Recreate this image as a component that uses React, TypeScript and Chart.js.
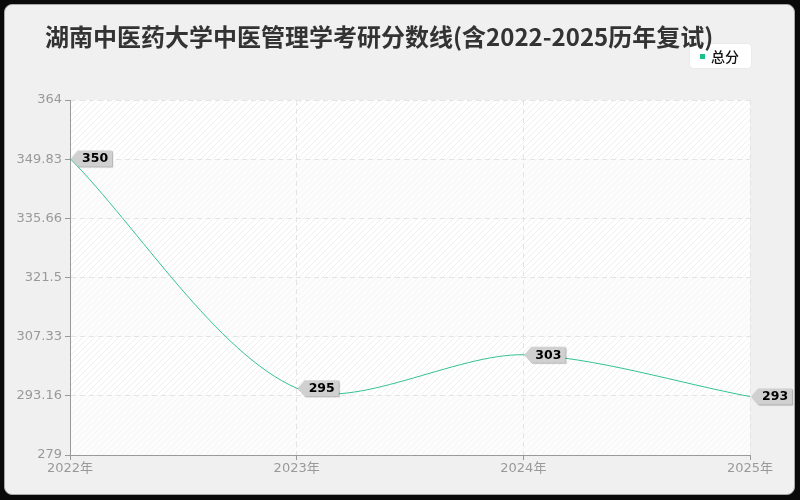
import React, { useEffect, useRef } from "react";
import { Chart, registerables } from "chart.js";

Chart.register(...registerables);

const TITLE = "湖南中医药大学中医管理学考研分数线(含2022-2025历年复试)";
const categories = ["2022年", "2023年", "2024年", "2025年"];
const seriesName = "总分";
const totalScores = [350, 295, 303, 293];
const yTickValues = [279, 293.1667, 307.3333, 321.5, 335.6667, 349.8333, 364];
const yTickLabels = ["279", "293.16", "307.33", "321.5", "335.66", "349.83", "364"];

const LINE_COLOR = "#34c196";
const FONT = "'DejaVu Sans', 'Noto Sans CJK SC', sans-serif";

function makePattern(ctx: CanvasRenderingContext2D, bg: string, line: string) {
  const size = 6;
  const c = document.createElement("canvas");
  c.width = size;
  c.height = size;
  const p = c.getContext("2d")!;
  p.fillStyle = bg;
  p.fillRect(0, 0, size, size);
  p.strokeStyle = line;
  p.lineWidth = 1;
  p.beginPath();
  p.moveTo(0, size);
  p.lineTo(size, 0);
  p.moveTo(-size / 2, size / 2);
  p.lineTo(size / 2, -size / 2);
  p.moveTo(size / 2, size + size / 2);
  p.lineTo(size + size / 2, size / 2);
  p.stroke();
  return ctx.createPattern(c, "repeat")!;
}

const bandsPlugin = {
  id: "bands",
  beforeDraw(chart: any) {
    const { ctx, chartArea } = chart;
    const y = chart.scales.y;
    const pA = makePattern(ctx, "#ffffff", "#efefef");
    const pB = makePattern(ctx, "#fcfcfc", "#f5f5f5");
    ctx.save();
    for (let i = 0; i < yTickValues.length - 1; i++) {
      const top = y.getPixelForValue(yTickValues[yTickValues.length - 1 - i]);
      const bottom = y.getPixelForValue(yTickValues[yTickValues.length - 2 - i]);
      ctx.fillStyle = i % 2 === 0 ? pA : pB;
      ctx.fillRect(chartArea.left, top, chartArea.right - chartArea.left, bottom - top);
    }
    ctx.restore();
  },
};

const tagPlugin = {
  id: "tags",
  afterDatasetsDraw(chart: any) {
    const { ctx } = chart;
    const meta = chart.getDatasetMeta(0);
    const data = chart.data.datasets[0].data;
    ctx.save();
    ctx.font = "bold 12.5px 'DejaVu Sans', sans-serif";
    meta.data.forEach((pt: any, i: number) => {
      const text = String(data[i]);
      const tw = ctx.measureText(text).width;
      const h = 16;
      const arrow = 7;
      const pad = 4;
      const x0 = pt.x + 1;
      const py = pt.y;
      const bx = x0 + arrow;
      const bw = tw + pad * 2;
      ctx.save();
      ctx.shadowColor = "rgba(0,0,0,0.3)";
      ctx.shadowOffsetX = 1;
      ctx.shadowOffsetY = 1;
      ctx.shadowBlur = 1;
      ctx.fillStyle = "#d0d0d0";
      ctx.beginPath();
      ctx.moveTo(x0, py);
      ctx.lineTo(bx, py - h / 2);
      ctx.lineTo(bx + bw, py - h / 2);
      ctx.lineTo(bx + bw, py + h / 2);
      ctx.lineTo(bx, py + h / 2);
      ctx.closePath();
      ctx.fill();
      ctx.restore();
      ctx.fillStyle = "#000";
      ctx.textBaseline = "middle";
      ctx.textAlign = "left";
      ctx.fillText(text, bx + pad, py + 0.5);
    });
    ctx.restore();
  },
};

export default function App() {
  const ref = useRef<HTMLCanvasElement>(null);

  useEffect(() => {
    if (!ref.current) return;
    Chart.defaults.font.family = FONT;
    const chart = new Chart(ref.current, {
      type: "line",
      data: {
        labels: categories,
        datasets: [
          {
            label: seriesName,
            data: totalScores,
            borderColor: LINE_COLOR,
            backgroundColor: LINE_COLOR,
            borderWidth: 1,
            pointRadius: 0,
            tension: 0.3,
            fill: false,
          },
        ],
      },
      options: {
        animation: false,
        responsive: false,
        devicePixelRatio: 1,
        layout: { padding: { top: 100, right: 50, left: 0, bottom: 0 } },
        plugins: {
          legend: { display: false },
          title: { display: false },
          tooltip: { enabled: false },
        },
        scales: {
          x: {
            type: "category",
            offset: false,
            afterFit: (s: any) => {
              s.height = 45;
            },
            grid: {
              display: true,
              color: "#e4e4e4",
              tickColor: "#999",
              tickLength: 5,
              drawOnChartArea: true,
            },
            border: { display: true, color: "#999", width: 1, dash: [5, 4] },
            ticks: {
              color: "#999",
              font: { size: 13, family: FONT },
              padding: 1,
              maxRotation: 0,
            },
          },
          y: {
            type: "linear",
            min: 279,
            max: 364,
            afterFit: (s: any) => {
              s.width = 70;
            },
            afterBuildTicks: (s: any) => {
              s.ticks = yTickValues.map((v) => ({ value: v }));
            },
            grid: {
              display: true,
              color: "#e4e4e4",
              tickColor: "#999",
              tickLength: 5,
            },
            border: { display: true, color: "#999", width: 1, dash: [5, 4] },
            ticks: {
              color: "#999",
              font: { size: 13, family: FONT },
              padding: 3,
              callback: (_v: any, i: number) => yTickLabels[i],
            },
          },
        },
      },
      plugins: [bandsPlugin, tagPlugin],
    } as any);
    return () => chart.destroy();
  }, []);

  return (
    <div style={{ position: "fixed", left: 0, top: 0, width: 800, height: 500, background: "#0a0a0a", overflow: "hidden" }}>
      <div
        style={{
          position: "absolute",
          left: 4,
          top: 4,
          width: 791,
          height: 491,
          boxSizing: "border-box",
          background: "#f0f0f0",
          border: "1px solid #a8a8a8",
          borderRadius: 8,
        }}
      />
      <canvas ref={ref} width={800} height={500} style={{ position: "absolute", left: 0, top: 0, width: 800, height: 500 }} />
      <div
        style={{
          position: "absolute",
          left: 690,
          top: 44,
          width: 61,
          height: 24,
          background: "#fff",
          borderRadius: 4,
          boxShadow: "0 0 2px rgba(0,0,0,0.08)",
          display: "flex",
          alignItems: "center",
          fontFamily: "'Noto Sans CJK SC', sans-serif",
          fontSize: 14,
          fontWeight: 500,
          color: "#111",
        }}
      >
        <span style={{ display: "inline-block", width: 5, height: 5, background: "#1cbf8c", marginLeft: 10, marginRight: 6 }} />
        <span style={{ lineHeight: 1 }}>{seriesName}</span>
      </div>
      <div
        style={{
          position: "absolute",
          left: 45,
          top: 36,
          transform: "translateY(-50%)",
          fontFamily: "'Noto Sans CJK SC', sans-serif",
          fontWeight: 700,
          fontSize: 24,
          color: "#333",
          whiteSpace: "nowrap",
          lineHeight: 1,
        }}
      >
        {TITLE}
      </div>
    </div>
  );
}
